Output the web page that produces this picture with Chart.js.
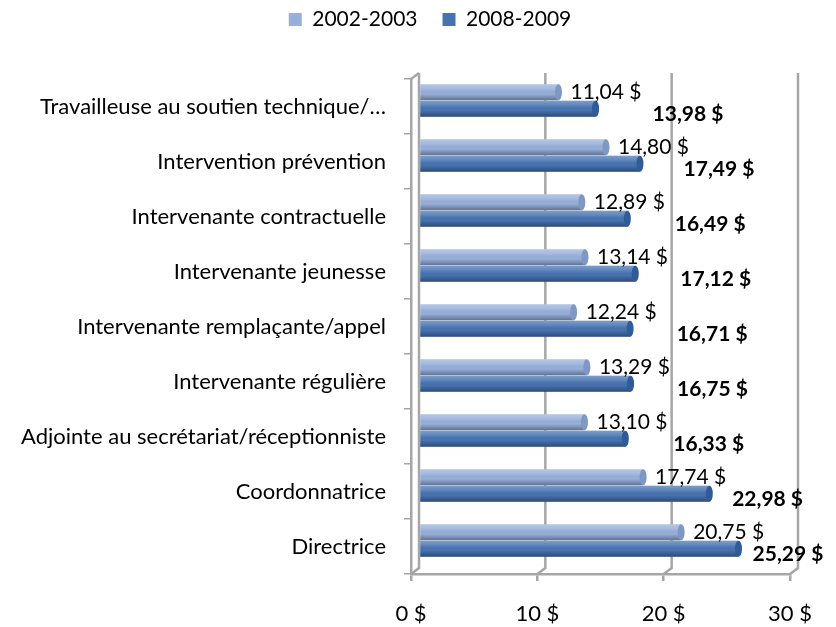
<!DOCTYPE html>
<html>
<head>
<meta charset="utf-8">
<script src="https://cdn.jsdelivr.net/npm/chart.js@4"></script>
<style>
  body { margin: 0; background: #fff; }
  #wrap { width: 836px; height: 627px; }
</style>
</head>
<body>
<div id="wrap"><canvas id="salaires"></canvas></div>
<script>
const categories = [
    "Travailleuse au soutien technique/…",
    "Intervention prévention",
    "Intervenante contractuelle",
    "Intervenante jeunesse",
    "Intervenante remplaçante/appel",
    "Intervenante régulière",
    "Adjointe au secrétariat/réceptionniste",
    "Coordonnatrice",
    "Directrice"
];
const salaires2002 = [11.04, 14.80, 12.89, 13.14, 12.24, 13.29, 13.10, 17.74, 20.75];
const salaires2008 = [13.98, 17.49, 16.49, 17.12, 16.71, 16.75, 16.33, 22.98, 25.29];
const series = ["2002-2003", "2008-2009"];
const xMin = 0, xMax = 30, xStep = 10;

const police = "Lato, 'Open Sans', sans-serif";
const gris = "#A6A6A6";
// profondeur de l'effet 3D (mur du fond)
const profX = 8, profY = 6;

function formatDollar(v) {
    return v.toFixed(2).replace(".", ",") + " $";
}

const effet3D = {
    id: "effet3D",
    beforeInit(chart) {
        // hauteur fixe pour la legende -> haut du graphique
        const fit = chart.legend.fit;
        chart.legend.fit = function() {
            fit.bind(chart.legend)();
            this.height = 95;
        };
    },
    afterLayout(chart) {
        // legende un peu decalee vers la droite, comme dans Excel
        chart.legend.left += 70;
    },
    beforeDatasetsDraw(chart) {
        const ctx = chart.ctx;
        const area = chart.chartArea;
        const xs = chart.scales.x;
        ctx.save();
        ctx.strokeStyle = gris;
        ctx.lineWidth = 2.5;
        // lignes du mur du fond
        for (let v = xMin; v <= xMax; v += xStep) {
            const px = xs.getPixelForValue(v);
            ctx.beginPath();
            ctx.moveTo(px + profX, area.top - profY);
            ctx.lineTo(px + profX, area.bottom - profY);
            ctx.lineTo(px, area.bottom);
            ctx.stroke();
        }
        // coin haut du mur gauche
        ctx.beginPath();
        ctx.moveTo(area.left, area.top);
        ctx.lineTo(area.left + profX, area.top - profY);
        ctx.stroke();
        ctx.restore();

        ctx.save();
        ctx.translate(profX, -profY);
    },
    afterDatasetsDraw(chart) {
        const ctx = chart.ctx;
        const xs = chart.scales.x;
        chart.data.datasets.forEach((ds, i) => {
            const meta = chart.getDatasetMeta(i);
            meta.data.forEach(bar => {
                const top = bar.y - bar.height / 2;
                const left = Math.min(bar.base, bar.x);
                const w = Math.abs(bar.x - bar.base);
                const g = ctx.createLinearGradient(0, top, 0, top + bar.height);
                g.addColorStop(0, "rgba(255,255,255,0.30)");
                g.addColorStop(0.3, "rgba(255,255,255,0.12)");
                g.addColorStop(0.6, "rgba(0,0,0,0.0)");
                g.addColorStop(1, "rgba(0,0,0,0.35)");
                ctx.fillStyle = g;
                ctx.fillRect(left, top, w, bar.height);
                ctx.beginPath();
                ctx.ellipse(bar.x, bar.y, 3.5, bar.height / 2, 0, 0, Math.PI * 2);
                ctx.fillStyle = i === 0 ? "#7E98C4" : "#2F5C98";
                ctx.fill();
            });
        });

        // etiquettes de valeurs
        ctx.fillStyle = "#000";
        ctx.textAlign = "left";
        ctx.textBaseline = "middle";
        chart.data.datasets.forEach((ds, i) => {
            const meta = chart.getDatasetMeta(i);
            ctx.font = (i === 1 ? "bold " : "") + "21px " + police;
            meta.data.forEach((bar, j) => {
                if (i === 0) {
                    ctx.fillText(formatDollar(ds.data[j]), bar.x + 12, bar.y);
                } else {
                    // glissement des etiquettes comme dans la vue 3D d'Excel
                    const glisse = 0.3 * (xs.getPixelForValue(29) - xs.getPixelForValue(ds.data[j]));
                    ctx.fillText(formatDollar(ds.data[j]), bar.x + glisse, bar.y + 5);
                }
            });
        });
        ctx.restore();
    }
};

new Chart(document.getElementById("salaires"), {
    type: "bar",
    data: {
        labels: categories,
        datasets: [
            {
                label: series[0],
                data: salaires2002,
                backgroundColor: "#97AFDA",
                borderWidth: 0,
                categoryPercentage: 0.6,
                barPercentage: 0.97
            },
            {
                label: series[1],
                data: salaires2008,
                backgroundColor: "#4673B1",
                borderWidth: 0,
                categoryPercentage: 0.6,
                barPercentage: 0.97
            }
        ]
    },
    options: {
        indexAxis: "y",
        responsive: true,
        maintainAspectRatio: false,
        animation: false,
        layout: {
            padding: { top: -16, right: 46, bottom: 0, left: 0 }
        },
        scales: {
            x: {
                min: xMin,
                max: xMax,
                ticks: {
                    stepSize: xStep,
                    color: "#000",
                    font: { family: police, size: 22 },
                    padding: 20,
                    callback: v => v + " $"
                },
                grid: {
                    drawOnChartArea: false,
                    color: gris,
                    lineWidth: 2.5,
                    tickLength: 7
                },
                border: { color: gris, width: 2.5 },
                afterFit: scale => { scale.height = 53; }
            },
            y: {
                ticks: {
                    color: "#000",
                    font: { family: police, size: 22 },
                    padding: 18
                },
                grid: {
                    offset: true,
                    drawOnChartArea: false,
                    color: gris,
                    lineWidth: 1.5,
                    tickLength: 7
                },
                border: { color: gris, width: 2.5 },
                afterFit: scale => { scale.width = 411; }
            }
        },
        plugins: {
            legend: {
                position: "top",
                labels: {
                    color: "#000",
                    font: { family: police, size: 21 },
                    boxWidth: 13,
                    boxHeight: 13,
                    padding: 25
                }
            },
            tooltip: { enabled: false }
        }
    },
    plugins: [effet3D]
});
</script>
</body>
</html>
